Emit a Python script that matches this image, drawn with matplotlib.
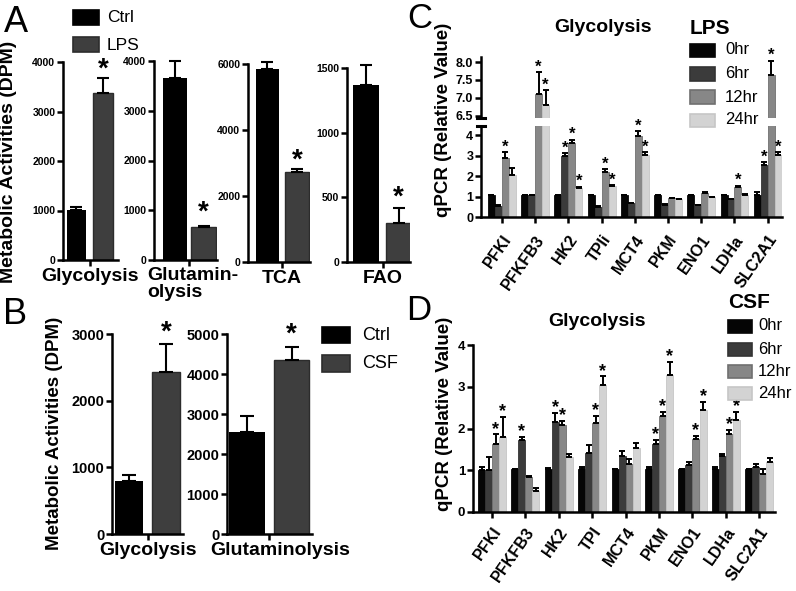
import matplotlib
matplotlib.use('Agg')
import matplotlib.pyplot as plt
from matplotlib.patches import Rectangle
from matplotlib.lines import Line2D

plt.rcParams['font.family'] = ['Liberation Sans', 'DejaVu Sans']
plt.rcParams['font.weight'] = 'bold'

# ---------------- data ----------------
a_conditions = ['Ctrl', 'LPS']
a_pathways = ['Glycolysis', 'Glutamin-\nolysis', 'TCA', 'FAO']
a_ctrl = [1020, 3650, 5850, 1365]
a_ctrl_err = [60, 350, 200, 155]
a_lps = [3380, 660, 2720, 300]
a_lps_err = [300, 20, 100, 120]
a_lps_sig = [True, True, True, True]
a_ymax = [4000, 4000, 6000, 1500]
a_yticks = [[0, 1000, 2000, 3000, 4000], [0, 1000, 2000, 3000, 4000],
            [0, 2000, 4000, 6000], [0, 500, 1000, 1500]]

b_conditions = ['Ctrl', 'CSF']
b_pathways = ['Glycolysis', 'Glutaminolysis']
b_ctrl = [800, 2550]
b_ctrl_err = [80, 400]
b_csf = [2430, 4350]
b_csf_err = [420, 330]
b_csf_sig = [True, True]
b_ymax = [3000, 5000]
b_yticks = [[0, 1000, 2000, 3000], [0, 1000, 2000, 3000, 4000, 5000]]

times = ['0hr', '6hr', '12hr', '24hr']
genes_c = ['PFKl', 'PFKFB3', 'HK2', 'TPIi', 'MCT4', 'PKM', 'ENO1', 'LDHa', 'SLC2A1']
c_0hr = [1.05, 1.05, 1.05, 1.05, 1.05, 1.05, 1.05, 1.05, 1.05]
c_0hr_err = [0.04, 0.02, 0.03, 0.03, 0.03, 0.03, 0.03, 0.03, 0.16]
c_6hr = [0.55, 1.05, 2.97, 0.51, 0.67, 0.60, 0.57, 0.86, 2.54]
c_6hr_err = [0.04, 0.02, 0.14, 0.02, 0.02, 0.02, 0.02, 0.03, 0.13]
c_12hr = [2.88, 7.10, 3.62, 2.21, 3.93, 0.92, 1.16, 1.46, 7.64]
c_12hr_err = [0.28, 0.62, 0.15, 0.11, 0.26, 0.03, 0.06, 0.06, 0.40]
c_24hr = [2.03, 6.80, 1.41, 1.49, 3.03, 0.86, 0.96, 1.07, 3.03]
c_24hr_err = [0.34, 0.42, 0.07, 0.07, 0.13, 0.03, 0.03, 0.04, 0.13]
c_sig_6hr = [False, False, True, False, False, False, False, False, True]
c_sig_12hr = [True, True, True, True, True, False, False, True, True]
c_sig_24hr = [False, True, True, True, True, False, False, False, True]

genes_d = ['PFKl', 'PFKFB3', 'HK2', 'TPI', 'MCT4', 'PKM', 'ENO1', 'LDHa', 'SLC2A1']
d_0hr = [1.01, 1.02, 1.02, 1.02, 1.02, 1.02, 1.02, 1.02, 1.02]
d_0hr_err = [0.07, 0.02, 0.04, 0.06, 0.01, 0.05, 0.01, 0.06, 0.02]
d_6hr = [1.01, 1.72, 2.16, 1.42, 1.34, 1.63, 1.12, 1.35, 1.08]
d_6hr_err = [0.31, 0.08, 0.21, 0.18, 0.13, 0.09, 0.08, 0.03, 0.07]
d_12hr = [1.63, 0.84, 2.08, 2.14, 1.16, 2.29, 1.76, 1.86, 0.92]
d_12hr_err = [0.23, 0.03, 0.10, 0.16, 0.10, 0.11, 0.06, 0.10, 0.10]
d_24hr = [1.80, 0.50, 1.31, 3.04, 1.54, 3.27, 2.44, 2.20, 1.19]
d_24hr_err = [0.48, 0.07, 0.09, 0.21, 0.12, 0.32, 0.20, 0.20, 0.11]
d_sig_6hr = [False, True, True, False, False, True, False, False, False]
d_sig_12hr = [True, False, True, True, False, True, True, True, False]
d_sig_24hr = [True, False, False, True, False, True, True, True, False]

# ---------------- layout helpers ----------------
W, H = 796, 591
fig = plt.figure(figsize=(W / 100, H / 100), dpi=100)


def axpx(l, t, r, b):
    return fig.add_axes([l / W, 1 - b / H, (r - l) / W, (b - t) / H])


def fx(x):
    return x / W


def fy(y):
    return 1 - y / H


def style(ax, lw=1.8, ticklen=4, labelsize=8):
    for s in ['top', 'right']:
        ax.spines[s].set_visible(False)
    for s in ['left', 'bottom']:
        ax.spines[s].set_linewidth(lw)
    ax.tick_params(width=lw, length=ticklen, labelsize=labelsize, pad=1.5)
    ax.set_facecolor('none')


def star(ax, x, y, size, off=0):
    ax.annotate('*', xy=(x, y), xytext=(0, off), textcoords='offset points',
                ha='center', va='baseline', fontsize=size, fontweight='bold',
                annotation_clip=False)


def legend_box(x0, y0, x1, y1, color, edge):
    fig.patches.append(Rectangle((fx(x0), fy(y1)), fx(x1) - fx(x0), fy(y0) - fy(y1),
                                 transform=fig.transFigure, facecolor=color,
                                 edgecolor=edge, linewidth=1.2))


CTRL_C = '#000000'
TRT_C = '#3e3e3e'
TRT_E = '#2c2c2c'

# ---------------- panel A ----------------
a_boxes = [(63, 62, 118, 260), (154, 61, 217, 260), (248, 64, 310, 262), (347, 68, 410, 262)]
a_xlims = [(-0.5, 1.54), (-0.74, 1.47), (-0.66, 1.44), (-0.6, 1.35)]
a_widths = [0.74, 0.85, 0.8, 0.8]
a_star_off = [1, 5, 1, 2]
for i in range(4):
    ax = axpx(*a_boxes[i])
    w = a_widths[i]
    ax.bar([0], [a_ctrl[i]], w, color=CTRL_C)
    ax.bar([1], [a_lps[i]], w, color=TRT_C, edgecolor=TRT_E, linewidth=1)
    ax.errorbar([0], [a_ctrl[i]], yerr=[[0], [a_ctrl_err[i]]], fmt='none', ecolor='black',
                elinewidth=1.5, capsize=4, capthick=1.5, clip_on=False)
    ax.errorbar([1], [a_lps[i]], yerr=[[0], [a_lps_err[i]]], fmt='none', ecolor='black',
                elinewidth=1.5, capsize=4, capthick=1.5, clip_on=False)
    if a_lps_sig[i]:
        star(ax, 1, a_lps[i] + a_lps_err[i], 20, a_star_off[i])
    ax.set_ylim(0, a_ymax[i])
    ax.set_yticks(a_yticks[i])
    ax.set_xlim(*a_xlims[i])
    ax.set_xticks([0.5])
    style(ax, labelsize=7.5)
    if i == 1:
        ax.set_xticklabels([''])
        fig.text(fx(147), fy(267), a_pathways[i], ha='left', va='top', fontsize=14,
                 fontweight='bold', multialignment='left', linespacing=1.0)
    else:
        ax.set_xticklabels([a_pathways[i]], fontsize=14, fontweight='bold')

fig.text(fx(9), fy(162), 'Metabolic Activities (DPM)', rotation=90, ha='center', va='center',
         fontsize=14, fontweight='bold')
fig.text(fx(4), fy(22), 'A', ha='left', va='center', fontsize=26, fontweight='normal')
legend_box(73, 10, 99, 25, CTRL_C, CTRL_C)
legend_box(73, 37, 99, 52, TRT_C, TRT_E)
fig.text(fx(107), fy(18), a_conditions[0], ha='left', va='center', fontsize=12.5,
         fontweight='normal')
fig.text(fx(107), fy(45), a_conditions[1], ha='left', va='center', fontsize=12.5,
         fontweight='normal')

# ---------------- panel B ----------------
b_boxes = [(112, 334, 183, 534), (227, 334, 312, 534)]
b_xlims = [(-0.46, 1.46), (-0.45, 1.46)]
b_widths = [0.75, 0.8]
b_star_off = [3, 4]
b_label_shift = [0, 11]   # label offset from tick, in pixels
for i in range(2):
    ax = axpx(*b_boxes[i])
    w = b_widths[i]
    ax.bar([0], [b_ctrl[i]], w, color=CTRL_C)
    ax.bar([1], [b_csf[i]], w, color=TRT_C, edgecolor=TRT_E, linewidth=1)
    ax.errorbar([0], [b_ctrl[i]], yerr=[[0], [b_ctrl_err[i]]], fmt='none', ecolor='black',
                elinewidth=1.5, capsize=5, capthick=1.5, clip_on=False)
    ax.errorbar([1], [b_csf[i]], yerr=[[0], [b_csf_err[i]]], fmt='none', ecolor='black',
                elinewidth=1.5, capsize=5, capthick=1.5, clip_on=False)
    if b_csf_sig[i]:
        star(ax, 1, b_csf[i] + b_csf_err[i], 20, b_star_off[i])
    ax.set_ylim(0, b_ymax[i])
    ax.set_yticks(b_yticks[i])
    ax.set_xlim(*b_xlims[i])
    ax.set_xticks([0.5])
    ax.set_xticklabels([''])
    style(ax, labelsize=10.5)
    ax.annotate(b_pathways[i], xy=(0.5, 0), xycoords=ax.get_xaxis_transform(),
                xytext=(b_label_shift[i] * 0.72, -6), textcoords='offset points',
                ha='center', va='top', fontsize=14, fontweight='bold',
                annotation_clip=False)

fig.text(fx(55), fy(433), 'Metabolic Activities (DPM)', rotation=90, ha='center', va='center',
         fontsize=13.5, fontweight='bold')
fig.text(fx(3), fy(314), 'B', ha='left', va='center', fontsize=26, fontweight='normal')
legend_box(322, 327, 350, 343, CTRL_C, CTRL_C)
legend_box(322, 355, 350, 372, TRT_C, TRT_E)
fig.text(fx(362), fy(335), b_conditions[0], ha='left', va='center', fontsize=13,
         fontweight='normal')
fig.text(fx(362), fy(363), b_conditions[1], ha='left', va='center', fontsize=13,
         fontweight='normal')

# ---------------- panels C / D common ----------------
t_colors = ['#050505', '#3b3b3b', '#878787', '#d3d3d3']
t_edges = ['#050505', '#333333', '#707070', '#c6c6c6']
offsets = [-0.315, -0.105, 0.105, 0.315]
bw = 0.21


def grouped(ax_list, vals, errs, sigs, split=None, starsize=12, capsize=2.2):
    n = len(vals[0])
    xs = list(range(n))
    for k in range(4):
        xk = [x + offsets[k] for x in xs]
        for ax in ax_list:
            ax.bar(xk, vals[k], bw, color=t_colors[k], edgecolor=t_edges[k], linewidth=0.6)
        for j in range(n):
            top = vals[k][j] + errs[k][j]
            if split is not None and vals[k][j] > split:
                ax = ax_list[0]
            else:
                ax = ax_list[-1]
            ax.errorbar([xk[j]], [vals[k][j]], yerr=[[0], [errs[k][j]]], fmt='none',
                        ecolor='black', elinewidth=1.4, capsize=capsize, capthick=1.4,
                        clip_on=False)
            if sigs[k] is not None and sigs[k][j]:
                star(ax, xk[j], top, starsize, 0.5)


# ---------------- panel C ----------------
axCu = axpx(481, 57, 782, 118)
axCl = axpx(481, 126, 782, 217)
grouped([axCu, axCl], [c_0hr, c_6hr, c_12hr, c_24hr],
        [c_0hr_err, c_6hr_err, c_12hr_err, c_24hr_err],
        [None, c_sig_6hr, c_sig_12hr, c_sig_24hr], split=5, starsize=12)
for ax in (axCu, axCl):
    ax.set_xlim(-0.63, 8.43)
axCu.set_ylim(6.44, 8.14)
axCu.set_yticks([6.5, 7.0, 7.5, 8.0])
axCu.set_yticklabels(['6.5', '7.0', '7.5', '8.0'])
axCl.set_ylim(0, 4.44)
axCl.set_yticks([0, 1, 2, 3, 4])
style(axCu, lw=1.8, labelsize=9)
style(axCl, lw=1.8, labelsize=9)
axCu.spines['bottom'].set_visible(False)
axCu.tick_params(axis='x', bottom=False, labelbottom=False)
axCl.set_xticks(range(len(genes_c)))
axCl.set_xticklabels(genes_c, rotation=55, ha='right', va='top', rotation_mode='anchor',
                     fontsize=11.5, fontweight='bold')
axCl.tick_params(axis='x', pad=7, length=4)
# break marks on the y axis
axCu.add_line(Line2D([-0.012, 0.012], [0, 0], transform=axCu.transAxes, color='black',
                     lw=2.2, clip_on=False))
axCl.add_line(Line2D([-0.012, 0.012], [1, 1], transform=axCl.transAxes, color='black',
                     lw=2.2, clip_on=False))

fig.text(fx(444), fy(120), 'qPCR (Relative Value)', rotation=90, ha='center', va='center',
         fontsize=13.5, fontweight='bold')
fig.text(fx(407), fy(18), 'C', ha='left', va='center', fontsize=25, fontweight='normal')
fig.text(fx(603), fy(28), 'Glycolysis', ha='center', va='center', fontsize=14,
         fontweight='bold')
fig.text(fx(690), fy(28), 'LPS', ha='left', va='center', fontsize=15, fontweight='bold')
c_leg_rows = [50, 74, 97, 120]
for k in range(4):
    legend_box(690, c_leg_rows[k] - 6.5, 715, c_leg_rows[k] + 6.5, t_colors[k], t_edges[k])
    fig.text(fx(725), fy(c_leg_rows[k]), times[k], ha='left', va='center', fontsize=12,
             fontweight='normal')

# ---------------- panel D ----------------
axD = axpx(473, 345, 775, 512)
grouped([axD], [d_0hr, d_6hr, d_12hr, d_24hr],
        [d_0hr_err, d_6hr_err, d_12hr_err, d_24hr_err],
        [None, d_sig_6hr, d_sig_12hr, d_sig_24hr], starsize=13)
axD.set_xlim(-0.57, 8.47)
axD.set_ylim(0, 4)
axD.set_yticks([0, 1, 2, 3, 4])
style(axD, lw=1.8, labelsize=9.5)
axD.set_xticks(range(len(genes_d)))
axD.set_xticklabels(genes_d, rotation=55, ha='right', va='top', rotation_mode='anchor',
                    fontsize=11.5, fontweight='bold')
axD.tick_params(axis='x', pad=5, length=4)

fig.text(fx(445), fy(414), 'qPCR (Relative Value)', rotation=90, ha='center', va='center',
         fontsize=13.5, fontweight='bold')
fig.text(fx(406), fy(310), 'D', ha='left', va='center', fontsize=25, fontweight='normal')
fig.text(fx(597), fy(322), 'Glycolysis', ha='center', va='center', fontsize=14,
         fontweight='bold')
fig.text(fx(728), fy(303), 'CSF', ha='left', va='center', fontsize=15, fontweight='bold')
d_leg_rows = [326, 349, 371, 393]
for k in range(4):
    legend_box(728, d_leg_rows[k] - 6.5, 752, d_leg_rows[k] + 6.5, t_colors[k], t_edges[k])
    fig.text(fx(758), fy(d_leg_rows[k]), times[k], ha='left', va='center', fontsize=12,
             fontweight='normal')

fig.savefig('out.png', dpi=100)
